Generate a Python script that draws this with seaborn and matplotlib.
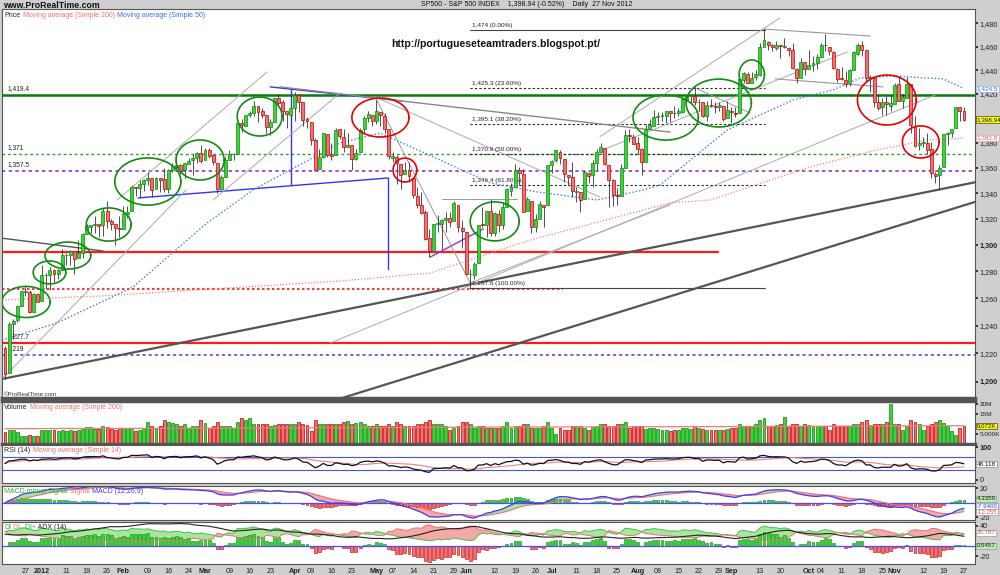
import numpy as np
import pandas as pd
import matplotlib
matplotlib.use("Agg")
import matplotlib.pyplot as plt
import matplotlib.transforms as mtrans
from matplotlib.ticker import FixedLocator, NullLocator, NullFormatter
import seaborn as sns

sns.set_theme(style="white")
plt.rcParams['font.family'] = ['Liberation Sans', 'DejaVu Sans']

# ---------------- data ----------------
holidays = ['2011-12-26', '2012-01-02', '2012-01-16', '2012-02-20', '2012-04-06', '2012-05-28',
            '2012-07-04', '2012-09-03', '2012-10-29', '2012-10-30', '2012-11-22']

opens = [1224, 1206, 1241, 1244, 1254, 1265, 1265, 1250, 1263,
         1258, 1277, 1277, 1281, 1278, 1281, 1292, 1292, 1295, 1290, 1294, 1308, 1314, 1315, 1316, 1315, 1326, 1318, 1316, 1313,
         1312, 1324, 1326, 1345, 1344, 1347, 1350, 1352, 1343, 1352, 1351, 1343, 1358, 1361, 1362, 1358, 1363, 1366, 1368, 1372,
         1366, 1374, 1370, 1364, 1343, 1353, 1366, 1371, 1371, 1396, 1394, 1403, 1404, 1410, 1406, 1403, 1393, 1397, 1417, 1413, 1406, 1403,
         1408, 1419, 1413, 1399, 1397, 1382, 1359, 1369, 1387, 1371, 1370, 1391, 1385, 1377, 1378, 1367, 1373, 1391, 1400, 1403,
         1398, 1405, 1402, 1391, 1368, 1369, 1363, 1355, 1358, 1352, 1338, 1331, 1325, 1305, 1295, 1316, 1316, 1319, 1321, 1318, 1331, 1313,
         1310, 1278, 1277, 1286, 1316, 1315, 1326, 1309, 1324, 1315, 1329, 1342, 1345, 1358, 1355, 1326, 1334, 1314, 1320, 1331, 1331,
         1362, 1366, 1373, 1367, 1354, 1353, 1341, 1341, 1335, 1356, 1354, 1364, 1373, 1376, 1362, 1350, 1338, 1338, 1360, 1386, 1385,
         1380, 1375, 1365, 1391, 1394, 1401, 1402, 1402, 1406, 1404, 1404, 1405, 1415, 1418, 1418, 1413, 1413, 1402, 1411, 1410, 1409, 1410, 1400,
         1406, 1404, 1404, 1432, 1437, 1429, 1434, 1436, 1460, 1464, 1461, 1459, 1461, 1460, 1459, 1457, 1441, 1433, 1447,
         1441, 1444, 1446, 1451, 1461, 1460, 1455, 1441, 1433, 1432, 1429, 1440, 1454, 1461, 1457, 1433, 1433, 1413, 1409, 1413, 1410,
         1412, 1428, 1414, 1417, 1428, 1394, 1378, 1380, 1380, 1375, 1355, 1354, 1361, 1387, 1388, 1392, 1409, 1406]

highs = [1225, 1243, 1245, 1255, 1265, 1269, 1266, 1264, 1264,
         1285, 1279, 1283, 1282, 1282, 1297, 1294, 1296, 1295, 1304, 1309, 1316, 1315, 1322, 1316, 1328, 1334, 1320, 1316, 1322,
         1330, 1330, 1346, 1345, 1350, 1351, 1357, 1352, 1353, 1352, 1360, 1359, 1364, 1368, 1363, 1364, 1368, 1371, 1373, 1378,
         1376, 1376, 1371, 1364, 1354, 1369, 1374, 1372, 1396, 1399, 1403, 1406, 1414, 1410, 1408, 1403, 1399, 1417, 1420, 1415, 1406, 1410,
         1422, 1420, 1413, 1401, 1397, 1384, 1375, 1388, 1387, 1380, 1392, 1391, 1391, 1388, 1378, 1375, 1392, 1402, 1406, 1403,
         1415, 1405, 1404, 1391, 1373, 1370, 1363, 1365, 1365, 1352, 1345, 1341, 1327, 1312, 1316, 1323, 1320, 1325, 1325, 1334, 1331, 1319,
         1310, 1282, 1287, 1315, 1329, 1326, 1335, 1325, 1327, 1333, 1344, 1348, 1363, 1361, 1359, 1337, 1334, 1324, 1334, 1331, 1362,
         1366, 1374, 1374, 1367, 1354, 1365, 1345, 1341, 1358, 1357, 1366, 1375, 1380, 1376, 1362, 1351, 1344, 1363, 1390, 1391, 1387,
         1385, 1376, 1395, 1399, 1407, 1405, 1405, 1406, 1406, 1410, 1408, 1417, 1418, 1418, 1426, 1416, 1413, 1414, 1416, 1413, 1413, 1410, 1414,
         1409, 1409, 1433, 1438, 1438, 1438, 1440, 1463, 1475, 1465, 1462, 1465, 1461, 1467, 1460, 1463, 1442, 1450, 1447,
         1457, 1452, 1454, 1463, 1471, 1460, 1456, 1442, 1443, 1439, 1441, 1456, 1463, 1465, 1457, 1436, 1433, 1420, 1417, 1418, 1419,
         1429, 1434, 1420, 1434, 1428, 1402, 1392, 1385, 1388, 1381, 1357, 1362, 1387, 1389, 1391, 1409, 1409, 1409]

lows = [1202, 1206, 1230, 1243, 1254, 1262, 1249, 1250, 1257,
        1258, 1267, 1266, 1272, 1274, 1281, 1285, 1285, 1278, 1290, 1290, 1308, 1309, 1309, 1306, 1307, 1313, 1311, 1300, 1306,
        1312, 1321, 1326, 1338, 1336, 1342, 1346, 1337, 1343, 1341, 1341, 1340, 1357, 1358, 1355, 1352, 1363, 1354, 1364, 1364,
        1366, 1368, 1362, 1340, 1343, 1353, 1366, 1366, 1371, 1389, 1394, 1401, 1402, 1397, 1400, 1388, 1386, 1397, 1411, 1398, 1392, 1400,
        1398, 1405, 1394, 1392, 1378, 1358, 1359, 1368, 1369, 1366, 1370, 1383, 1373, 1377, 1358, 1366, 1373, 1387, 1397, 1394,
        1395, 1394, 1388, 1367, 1365, 1347, 1343, 1355, 1349, 1336, 1328, 1324, 1304, 1291, 1295, 1310, 1297, 1310, 1314, 1318, 1310, 1298,
        1277, 1267, 1274, 1286, 1314, 1306, 1307, 1307, 1310, 1312, 1329, 1338, 1345, 1346, 1325, 1326, 1309, 1310, 1320, 1314, 1331,
        1356, 1365, 1363, 1349, 1346, 1337, 1333, 1325, 1335, 1348, 1345, 1358, 1372, 1362, 1329, 1330, 1331, 1338, 1360, 1381, 1379,
        1371, 1354, 1365, 1391, 1394, 1396, 1398, 1396, 1397, 1400, 1402, 1404, 1414, 1412, 1411, 1406, 1401, 1398, 1409, 1404, 1406, 1398, 1400,
        1396, 1401, 1404, 1429, 1429, 1429, 1432, 1435, 1460, 1457, 1456, 1457, 1450, 1459, 1452, 1441, 1429, 1433, 1436,
        1441, 1439, 1441, 1451, 1456, 1453, 1441, 1430, 1432, 1426, 1427, 1440, 1453, 1452, 1430, 1422, 1409, 1407, 1403, 1403, 1406,
        1412, 1414, 1408, 1417, 1388, 1377, 1374, 1377, 1371, 1352, 1348, 1343, 1361, 1378, 1385, 1392, 1398, 1398]

closes = [1205.35, 1241.30, 1243.72, 1254.00, 1265.33, 1265.43, 1249.64, 1263.02, 1257.60,
          1277.06, 1277.30, 1281.06, 1277.81, 1280.70, 1292.08, 1292.48, 1295.50, 1289.09, 1293.67, 1308.04, 1314.50, 1315.38, 1316.00, 1314.65, 1326.06, 1318.43, 1316.33, 1313.01, 1312.41,
          1324.09, 1325.54, 1344.90, 1344.33, 1347.05, 1349.96, 1351.95, 1342.64, 1351.77, 1350.50, 1343.23, 1358.04, 1361.23, 1362.21, 1357.66, 1363.46, 1365.74, 1367.59, 1372.18, 1365.68,
          1374.09, 1369.63, 1364.33, 1343.36, 1352.63, 1365.91, 1370.87, 1371.09, 1395.95, 1394.28, 1402.60, 1404.17, 1409.75, 1405.52, 1402.89, 1392.78, 1397.11, 1416.51, 1412.52, 1405.54, 1403.28, 1408.47,
          1419.04, 1413.38, 1398.96, 1398.08, 1382.20, 1358.59, 1368.71, 1387.57, 1370.26, 1369.57, 1390.78, 1385.14, 1376.92, 1378.53, 1366.94, 1371.97, 1390.69, 1399.98, 1403.36, 1397.91,
          1405.82, 1402.31, 1391.57, 1369.10, 1369.58, 1363.72, 1354.58, 1357.99, 1353.39, 1338.35, 1330.66, 1324.80, 1304.86, 1295.22, 1315.99, 1316.63, 1318.86, 1320.68, 1317.82, 1332.42, 1313.32, 1310.33,
          1278.04, 1278.18, 1285.50, 1315.13, 1314.99, 1325.66, 1308.93, 1324.18, 1314.88, 1329.10, 1342.84, 1344.78, 1357.98, 1355.69, 1325.51, 1335.02, 1313.72, 1319.99, 1331.85, 1329.04, 1362.16,
          1365.51, 1374.02, 1367.58, 1354.68, 1352.46, 1341.47, 1341.45, 1334.76, 1356.78, 1353.64, 1363.67, 1372.78, 1376.51, 1362.66, 1350.52, 1338.31, 1337.89, 1360.02, 1385.97, 1385.30, 1379.32,
          1375.14, 1365.00, 1390.99, 1394.23, 1401.35, 1402.22, 1402.80, 1405.87, 1404.11, 1403.93, 1405.53, 1415.51, 1418.16, 1418.13, 1413.17, 1413.49, 1402.08, 1411.13, 1410.44, 1409.30, 1410.49, 1399.48, 1406.58,
          1404.94, 1403.44, 1432.12, 1437.92, 1429.08, 1433.56, 1436.56, 1459.99, 1465.77, 1461.19, 1459.32, 1461.05, 1460.26, 1460.15, 1456.89, 1441.59, 1433.32, 1447.15, 1440.67,
          1444.49, 1445.75, 1450.99, 1461.40, 1460.93, 1455.88, 1441.48, 1432.56, 1432.84, 1428.59, 1440.13, 1454.92, 1460.91, 1457.34, 1433.19, 1433.82, 1413.11, 1408.75, 1412.97, 1411.94, 1412.16,
          1427.59, 1414.20, 1417.26, 1428.39, 1394.53, 1377.51, 1379.85, 1380.03, 1374.53, 1355.49, 1353.33, 1359.88, 1386.89, 1387.81, 1391.03, 1409.15, 1406.29, 1398.94]

# volume in millions
volume = [5.7, 7, 7, 5.7, 3.7, 3.7, 4, 3.7, 3.7,
          7, 7, 7, 6.7, 6.3, 7, 6.3, 6.7, 6.3, 7, 7.7, 8.3, 8.3, 7.3, 7.3, 9, 8.3, 7.3, 7, 7.7,
          8, 7.7, 8, 6.3, 7, 7.7, 10.7, 9, 8, 9, 11.7, 10.7, 10.3, 9.7, 9, 9.7, 8, 9, 9, 12,
          10.3, 8, 9, 10.7, 9, 8.7, 8.7, 7.7, 11, 12.7, 11.7, 12.7, 9.7, 9.7, 9.7, 9.7, 9, 9.3, 10, 10, 9.7, 10,
          9.7, 10.7, 9.7, 9.3, 6.3, 11.7, 9.7, 9.7, 10, 10, 10, 10, 11, 11.3, 10, 10.3, 11, 10, 9, 8.7,
          10, 9, 9, 9.7, 9, 10.7, 10, 9, 9, 8.7, 9.7, 10, 11, 11.7, 9.7, 10, 10, 9, 6.7, 7.7, 8.7, 10.7,
          11, 9.7, 8, 9, 9, 7.7, 8, 8, 8, 8.7, 10.7, 8, 9, 9, 9.7, 9.7, 8, 7.7, 7.7, 9, 10.7,
          8, 5, 7.7, 7, 7, 8.7, 9, 9, 7.7, 7, 8.3, 8.7, 10, 10, 8.7, 9, 9.7, 9.7, 10.7, 7.7, 9,
          9, 9, 7.3, 8, 7.7, 7.3, 7, 6.7, 6.3, 7, 7, 7.7, 7.7, 7.3, 9, 7.7, 7.3, 7, 6.7, 6.7, 6.7, 6.7, 7.3,
          8, 8, 10, 9, 8.7, 9, 9.7, 11.7, 13, 8.7, 8.7, 9.3, 9.7, 13.3, 8.7, 10, 9.7, 8.7, 9.7,
          9.3, 9, 9, 9, 9, 7, 10, 9, 9, 8.7, 9, 9.7, 10, 11, 12, 9.3, 10, 9.7, 9.7, 10.7, 20,
          10, 10, 7, 9, 11.7, 10.7, 9.7, 7, 9, 10, 10.7, 12, 10.3, 8.7, 6.3, 4, 8, 8.7]

# moving averages (bar index, value)
sma50_x = [-0.7, 12.7, 31.4, 49.5, 60.8, 82.1, 91.9, 106.6, 118.9, 130.4, 145.1, 156.4, 160.5, 177, 193.1, 202.9, 209.6, 217.6, 229.9, 235]
sma50_y = [1229.6, 1241.9, 1268.4, 1316.8, 1342.5, 1379.9, 1387.9, 1366.2, 1348.0, 1340.9, 1334.6, 1342.5, 1346.4, 1390.4, 1415.0, 1423.4, 1433.4, 1435.0, 1432.6, 1424.5]
sma200_x = [-0.7, 23.3, 82.1, 104.2, 128.7, 163, 172.8, 197.3, 213.7, 226, 235]
sma200_y = [1258.8, 1261.7, 1272.8, 1278.8, 1303.7, 1332.3, 1334.6, 1360.7, 1374.3, 1382.3, 1383.8]
vol_ma_x = [0, 60, 120, 180, 235]
vol_ma_y = [7.5, 7.8, 8.3, 8.6, 9.0]

tick_dates = ['2011-12-27', '2012-01-03', '2012-01-11', '2012-01-19', '2012-01-26', '2012-02-01', '2012-02-09',
              '2012-02-16', '2012-02-24', '2012-03-01', '2012-03-09', '2012-03-16', '2012-03-23', '2012-04-02',
              '2012-04-09', '2012-04-16', '2012-04-23', '2012-05-01', '2012-05-07', '2012-05-14', '2012-05-21',
              '2012-05-29', '2012-06-01', '2012-06-12', '2012-06-19', '2012-06-26', '2012-07-02', '2012-07-11',
              '2012-07-18', '2012-07-25', '2012-08-01', '2012-08-08', '2012-08-15', '2012-08-22', '2012-08-29',
              '2012-09-04', '2012-09-13', '2012-09-20', '2012-10-01', '2012-10-04', '2012-10-11', '2012-10-18',
              '2012-10-25', '2012-11-01', '2012-11-12', '2012-11-19', '2012-11-27']
tick_labels = ['27', '2012', '11', '19', '26', 'Feb', '09', '16', '24', 'Mar', '09', '16', '23', 'Apr',
               '09', '16', '23', 'May', '07', '14', '21', '29', 'Jun', '12', '19', '26', 'Jul', '11',
               '18', '25', 'Aug', '08', '15', '22', '29', 'Sep', '13', '20', 'Oct', '04', '11', '18',
               '25', 'Nov', '12', '19', '27']

# horizontal levels drawn on the chart
levels = [1419.4, 1371, 1357.5, 1227.7, 1219]
level_labels = ['1,419.4', '1,371', '1,357.5', '1,227.7', '1,219']
fib_levels = [1474, 1425.3, 1395.1, 1370.9, 1346.4, 1267.6]
fib_labels = ['1,474 (0.00%)', '1,425.3 (23.60%)', '1,395.1 (38.20%)', '1,370.9 (50.00%)',
              '1,346.4 (61.80%)', '1,267.6 (100.00%)']

# ---------------- frame ----------------
dates = pd.bdate_range('2011-12-19', '2012-11-27')
dates = dates[~dates.isin(pd.to_datetime(holidays))]
df = pd.DataFrame({'open': opens, 'high': highs, 'low': lows, 'close': closes, 'volume': volume}, index=dates)
n = len(df)
x = np.arange(n)
o = df['open'].values
h = np.maximum(df['high'].values, np.maximum(o, df['close'].values))
l = np.minimum(df['low'].values, np.minimum(o, df['close'].values))
c = df['close'].values
up = c >= o

# ---------------- indicators ----------------
rsi = np.zeros(n)
ag, al = 7.0, 7.0
for i in range(n):
    if i > 0:
        ch = c[i] - c[i - 1]
        ag = (ag * 13 + max(ch, 0)) / 14
        al = (al * 13 + max(-ch, 0)) / 14
    rsi[i] = 100 * ag / (ag + al)
rsi_ma = pd.Series(rsi).rolling(14, min_periods=1).mean().values

close_s = pd.Series(c)
macd = (close_s.ewm(span=12, adjust=False).mean() - close_s.ewm(span=26, adjust=False).mean()).values
signal = pd.Series(macd).ewm(span=9, adjust=False).mean().values
hist = macd - signal

dip = np.zeros(n); dim = np.zeros(n); adx = np.zeros(n)
atr, pdm_s, mdm_s, adx_v = 16.0, 5.0, 5.0, 25.0
for i in range(n):
    if i == 0:
        tr, pdm, mdm = h[i] - l[i], 0.0, 0.0
    else:
        tr = max(h[i] - l[i], abs(h[i] - c[i - 1]), abs(l[i] - c[i - 1]))
        upm = h[i] - h[i - 1]
        dnm = l[i - 1] - l[i]
        pdm = upm if (upm > dnm and upm > 0) else 0.0
        mdm = dnm if (dnm > upm and dnm > 0) else 0.0
    atr = (atr * 13 + tr) / 14
    pdm_s = (pdm_s * 13 + pdm) / 14
    mdm_s = (mdm_s * 13 + mdm) / 14
    dip[i] = 100 * pdm_s / atr
    dim[i] = 100 * mdm_s / atr
    dx = 100 * abs(dip[i] - dim[i]) / max(dip[i] + dim[i], 1e-9)
    adx_v = (adx_v * 13 + dx) / 14
    adx[i] = adx_v
di_diff = dip - dim

# ---------------- figure ----------------
GREEN, GREEN_E = '#3cd23c', '#0a8a0a'
RED, RED_E = '#ec7474', '#c40000'
FS = 5.0
fig = plt.figure(figsize=(10, 5.75), dpi=100)
fig.patch.set_facecolor('#cfcfcf')

L, W = 0.002, 0.973
ax_p = fig.add_axes([L, 1 - 398 / 575, W, 389 / 575])
ax_v = fig.add_axes([L, 1 - 444 / 575, W, 43 / 575])
ax_r = fig.add_axes([L, 1 - 483 / 575, W, 38 / 575])
ax_m = fig.add_axes([L, 1 - 520 / 575, W, 34 / 575])
ax_d = fig.add_axes([L, 1 - 564 / 575, W, 42 / 575])
axes = [ax_p, ax_v, ax_r, ax_m, ax_d]
xlim = (-0.74, 237.7)
for ax in axes:
    ax.set_facecolor('white')
    ax.set_xlim(*xlim)
    ax.yaxis.tick_right()
    ax.tick_params(axis='y', labelsize=5.2, length=2, pad=1.2, colors='#222222', direction='out')
    ax.tick_params(axis='x', length=0, labelbottom=False)
    for s in ax.spines.values():
        s.set_color('#555555')
        s.set_linewidth(0.8)
ax_p.spines['bottom'].set_linewidth(2.5)
ax_v.spines['bottom'].set_linewidth(2.5)
ax_v.spines['top'].set_linewidth(2.5)


def right_label(ax, val, text, fc='white', tc='#111111', ec='#999999', fs=4.6):
    bt = mtrans.blended_transform_factory(ax.transAxes, ax.transData)
    ax.text(1.002, val, text, transform=bt, fontsize=fs, color=tc, va='center', ha='left',
            bbox=dict(fc=fc, ec=ec, lw=0.5, pad=0.4), clip_on=False, zorder=10)


def legend_row(ax, parts, y=0.95):
    t = ax.text(0.0025, y, parts[0][0], transform=ax.transAxes, fontsize=FS, va='top', color=parts[0][1])
    for s, col in parts[1:]:
        t = ax.annotate(s, xy=(1, 0), xycoords=t, fontsize=FS, va='bottom', color=col)


# header
fig.text(0.003, 0.9985, 'www.ProRealTime.com', fontsize=6.3, fontweight='bold', va='top', ha='left', color='#111111')
fig.text(0.527, 0.9985, 'SP500 - S&P 500 INDEX    1,398.94 (-0.52%)    Daily  27 Nov 2012', fontsize=5.0,
         va='top', ha='center', color='#111111')

# ---------------- price panel ----------------
ax = ax_p
ax.set_yscale('log')
ax.set_ylim(1188.6, 1492.4)
pticks = list(range(1200, 1481, 20))
ax.yaxis.set_major_locator(FixedLocator(pticks))
ax.yaxis.set_minor_locator(NullLocator())
ax.yaxis.set_minor_formatter(NullFormatter())
# the 1,400 label sits under the last-price box
ax.set_yticklabels(['' if t == 1400 else f'{t:,}' for t in pticks])
for t, lab in zip(pticks, ax.get_yticklabels()):
    if t % 100 == 0:
        lab.set_fontweight('bold')

# horizontal levels
ax.axhline(1419.4, color='#0a7a0a', lw=1.8, zorder=2)
ax.axhline(1371, color='#2aa02a', lw=1.0, ls=(0, (2, 2)), zorder=2)
ax.axhline(1357.5, color='#9a30d0', lw=1.2, ls=(0, (2, 2)), zorder=2)
ax.axhline(1227.7, color='#ff1a1a', lw=1.6, zorder=2)
ax.axhline(1219, color='#6030d0', lw=1.1, ls=(0, (2, 2)), zorder=2)
ax.plot([xlim[0], 174.8], [1294.6, 1294.6], color='#ff1a1a', lw=1.6, zorder=2)
ax.plot([xlim[0], 136.8], [1267.2, 1267.2], color='#f04040', lw=1.5, ls=(0, (1.2, 1.2)), zorder=2)
for v, lab in zip(levels, level_labels):
    ax.text(0.6, v * 1.0015, lab, fontsize=4.8, color='#222222', va='bottom', ha='left')

# fibonacci retracement
for k, (v, lab) in enumerate(zip(fib_levels, fib_labels)):
    solid = k in (0, len(fib_levels) - 1)
    ax.plot([114, 186.3], [v, v], color='#444444' if solid else '#222222', lw=0.8,
            ls='-' if solid else (0, (2, 2)), zorder=2)
    ax.text(114.5, v * 1.0012, lab, fontsize=4.6, color='#222222', va='bottom', ha='left')

# trend lines (bar index, price)
drawn = [
    ((-0.7, 1201.9), (237.7, 1348.5), '#555555', 1.6),
    ((82.6, 1188.6), (237.7, 1333.1), '#555555', 1.6),
    ((-1.2, 1305.3), (24.0, 1295.4), '#555555', 1.0),
    ((65.0, 1425.9), (97.3, 1414.2), '#3333ff', 1.0),
    ((70.1, 1424.2), (70.1, 1346.4), '#3333ff', 1.0),
    ((32.6, 1336.2), (93.9, 1351.9), '#3333ff', 1.0),
    ((93.9, 1351.9), (93.9, 1281.9), '#3333ff', 1.0),
    ((104.2, 1290.8), (117.2, 1312.2), '#9933cc', 1.0),
    ((67.4, 1425.9), (163.0, 1388.7), '#888888', 1.0),
    ((27.5, 1334.6), (64.2, 1438.4), '#aaaaaa', 0.7),
    ((51.0, 1334.6), (82.1, 1420.8), '#aaaaaa', 0.7),
    ((-1.2, 1200.5), (44.4, 1342.5), '#aaaaaa', 0.7),
    ((90.7, 1417.6), (114.0, 1271.3), '#999999', 0.7),
    ((90.7, 1417.6), (145.8, 1336.9), '#aaaaaa', 0.7),
    ((107.1, 1335.4), (125.5, 1335.4), '#999999', 0.7),
    ((114.0, 1271.3), (163.0, 1330.7), '#aaaaaa', 0.7),
    ((79.7, 1227.5), (227.9, 1419.1), '#aaaaaa', 0.7),
    ((145.8, 1385.0), (189.9, 1484.7), '#aaaaaa', 0.7),
    ((145.8, 1373.4), (206.4, 1455.4), '#aaaaaa', 0.7),
    ((185.8, 1475.0), (212.0, 1469.0), '#999999', 0.8),
    ((188.7, 1432.6), (215.2, 1425.9), '#999999', 0.8),
    ((168.6, 1425.9), (182.6, 1404.3), '#999999', 0.7),
]
for (x0, y0), (x1, y1), col, lw in drawn:
    ax.plot([x0, x1], [y0, y1], color=col, lw=lw, zorder=2)

# moving averages
sns.lineplot(x=sma200_x, y=sma200_y, ax=ax, color='#f08080', lw=0.9, ls=(0, (1, 1.5)), zorder=3)
sns.lineplot(x=sma50_x, y=sma50_y, ax=ax, color='#3a7cf0', lw=1.0, ls=(0, (1, 1.5)), zorder=3)

# candles
ax.vlines(x, l, h, color='#333333', lw=0.6, zorder=4)
body_lo = np.minimum(o, c)
body_h = np.maximum(np.abs(c - o), 0.4)
ax.bar(x, body_h, bottom=body_lo, width=0.72, color=np.where(up, GREEN, RED),
       edgecolor=np.where(up, GREEN_E, RED_E), lw=0.5, zorder=5)

# ellipses: (centre index, centre price, half width in bars, half height in log units)
green_ell = [(5.15, 1257.3, 5.9, 0.0091), (10.9, 1279.2, 4.0, 0.0067), (15.4, 1291.9, 5.6, 0.0079),
             (25.4, 1315.6, 5.5, 0.0097), (35.0, 1349.1, 8.1, 0.0138), (47.8, 1366.2, 5.9, 0.0117),
             (62.4, 1401.4, 5.5, 0.0114), (120.0, 1318.0, 6.0, 0.0114), (161.9, 1400.6, 8.0, 0.0132),
             (174.9, 1412.5, 8.0, 0.0140), (183.0, 1436.3, 3.1, 0.0085)]
red_ell = [(92.0, 1400.6, 7.0, 0.0114), (98.0, 1358.2, 2.9, 0.0070), (216.1, 1415.0, 7.2, 0.0146),
           (224.4, 1380.7, 4.5, 0.0094)]
tt = np.linspace(0, 2 * np.pi, 120)
for cx, cy, a, b in green_ell:
    ax.plot(cx + a * np.cos(tt), cy * np.exp(b * np.sin(tt)), color='#138a13', lw=1.2, zorder=6)
for cx, cy, a, b in red_ell:
    ax.plot(cx + a * np.cos(tt), cy * np.exp(b * np.sin(tt)), color='#e80000', lw=1.2, zorder=6)

# texts
legend_row(ax, [('Price', '#222222'), (' Moving average (Simple 200)', '#ee7070'),
                (' Moving average (Simple 50)', '#3a6cf0')], y=0.993)
ax.text(0.4, 0.91, 'http://portugueseteamtraders.blogspot.pt/', transform=ax.transAxes, fontsize=7.6,
        fontweight='bold', color='#111111', ha='left', va='center')
ax.text(0.002, 0.003, '©ProRealTime.com', transform=ax.transAxes, fontsize=4.4, color='#333333', va='bottom')
right_label(ax, 1424.5, '1,424.5', tc='#3a6cf0', ec='#9ab0f0')
right_label(ax, 1398.94, '1,398.94', fc='#ffff00', ec='#444444')
right_label(ax, 1383.8, '1,383.8', tc='#e86060', ec='#f0a0a0')

# ---------------- volume ----------------
ax = ax_v
ax.bar(x, df['volume'].values, width=0.72, color=np.where(up, GREEN, RED),
       edgecolor=np.where(up, GREEN_E, RED_E), lw=0.5)
sns.lineplot(x=vol_ma_x, y=vol_ma_y, ax=ax, color='#f07a7a', lw=0.9)
ax.set_ylim(-0.35, 21.65)
ax.set_yticks([5, 15, 20], ['5,000K', '15M', '20M'])
ax.tick_params(axis='y', labelsize=4.6)
legend_row(ax, [('Volume', '#222222'), (' Moving average (Simple 200)', '#ee7070')], y=0.93)
right_label(ax, 9.07, '9,072K', fc='#ffff00', ec='#444444', fs=4.4)

# ---------------- RSI ----------------
ax = ax_r
ax.axhline(70, color='#4b4bff', lw=0.8)
ax.axhline(30, color='#4b4bff', lw=0.8)
sns.lineplot(x=x, y=rsi_ma, ax=ax, color='#ee8080', lw=0.8)
sns.lineplot(x=x, y=rsi, ax=ax, color='#111111', lw=0.9)
ax.set_ylim(-9.1, 106.1)
ax.set_yticks([0, 100], ['0', '100'])
ax.get_yticklabels()[1].set_fontweight('bold')
legend_row(ax, [('RSI (14)', '#222222'), (' Moving average (Simple 14)', '#ee7070')])
right_label(ax, 48.1, '48.118', ec='#888888')

# ---------------- MACD ----------------
ax = ax_m
ax.axhline(0, color='#4b4bff', lw=0.9)
ax.fill_between(x, macd, signal, where=macd >= signal, color='#a8e6a0', interpolate=True, lw=0)
ax.fill_between(x, macd, signal, where=macd < signal, color='#f4a8a8', interpolate=True, lw=0)
ax.bar(x, hist, width=0.72, color=np.where(hist >= 0, GREEN, RED), edgecolor=np.where(hist >= 0, GREEN_E, RED_E), lw=0.4)
sns.lineplot(x=x, y=signal, ax=ax, color='#ee7070', lw=0.8)
sns.lineplot(x=x, y=macd, ax=ax, color='#3a3aff', lw=0.9)
ax.set_ylim(-23.9, 23.0)
ax.set_yticks([-20, 20], ['-20', '20'])
legend_row(ax, [('MACD minus Signal', '#2ab02a'), (' Signal', '#ee7070'), (' MACD (12,26,9)', '#3a3aff')])
right_label(ax, 5.2, '4.3359', fc='#b8f0b0', fs=4.4)
right_label(ax, -4.9, '-7.9400', tc='#3a3aff', fs=4.4)
right_label(ax, -13.0, '-12.255', tc='#e05050', fs=4.4)

# ---------------- DI / ADX ----------------
ax = ax_d
ax.axhline(0, color='#4b4bff', lw=0.9)
ax.fill_between(x, dip, dim, where=dip >= dim, color='#a8e6a0', interpolate=True, lw=0)
ax.fill_between(x, dip, dim, where=dip < dim, color='#f4a8a8', interpolate=True, lw=0)
sns.lineplot(x=x, y=dip, ax=ax, color='#44c044', lw=0.7)
sns.lineplot(x=x, y=dim, ax=ax, color='#ee7070', lw=0.7)
ax.bar(x, di_diff, width=0.72, color=np.where(di_diff >= 0, GREEN, RED),
       edgecolor=np.where(di_diff >= 0, GREEN_E, RED_E), lw=0.4)
sns.lineplot(x=x, y=adx, ax=ax, color='#222222', lw=0.8)
ax.set_ylim(-35.6, 47.5)
ax.set_yticks([-20, 40], ['-20', '40'])
legend_row(ax, [('DI', '#2ab02a'), (' DI-', '#ee7070'), (' DI+', '#2ab02a'), (' ADX (14)', '#222222')])
right_label(ax, 25.8, '25.767', tc='#e05050', fs=4.4)
right_label(ax, 0.5, '0.5457', fc='#b8f0b0', fs=4.4)

# x axis labels
pos = [dates.get_loc(pd.Timestamp(d)) for d in tick_dates]
ax.set_xticks(pos)
ax.set_xticklabels(tick_labels)
ax.tick_params(axis='x', labelbottom=True, labelsize=5.2, length=2, pad=1, colors='#222222', direction='out')
for lab in ax.get_xticklabels():
    if not lab.get_text().isdigit() or lab.get_text() == '2012':
        lab.set_fontweight('bold')

for a in axes:
    a.set_xlim(*xlim)
    a.set_xlabel('')
    a.set_ylabel('')

fig.savefig('out.png', dpi=100, facecolor=fig.get_facecolor())
